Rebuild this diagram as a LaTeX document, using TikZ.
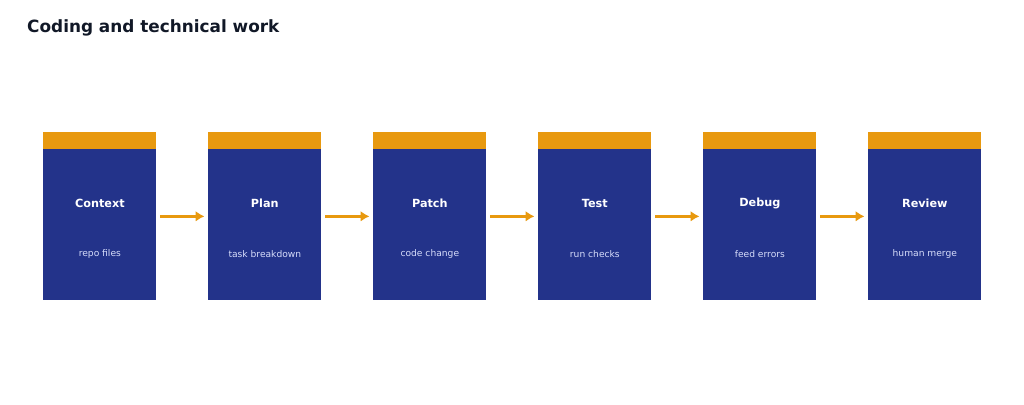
\documentclass[tikz,border=0pt]{standalone}
\usepackage{fontspec}
\setmainfont{DejaVu Sans}
\usetikzlibrary{positioning, arrows.meta}
\definecolor{stageblue}{RGB}{35, 51, 138}
\definecolor{caporange}{RGB}{232, 153, 15}
\definecolor{titleink}{RGB}{17, 24, 39}
\definecolor{subink}{RGB}{214, 220, 250}
\tikzset{
  stage/.style={rectangle, fill=stageblue, minimum width=2.26cm, minimum height=3.02cm, inner sep=0pt, anchor=north west},
  stagecap/.style={rectangle, fill=caporange, minimum width=2.26cm, minimum height=0.34cm, inner sep=0pt, anchor=south},
  flow/.style={caporange, line width=1.6pt, -{Latex[length=5pt, width=6pt]}, shorten >=2pt, shorten <=2pt}
}
\begin{document}
\begin{tikzpicture}[x=0.02cm, y=-0.02cm]
\useasboundingbox (0,0) rectangle (1024,405);

% Title
\node (title) [anchor=west, text=titleink, font=\bfseries\fontsize{9.6pt}{11pt}\selectfont] at (21,28) {Coding and technical work};

% Stages
\foreach \i/\name/\sub [count=\k from 0] in {ctx/Context/repo files, plan/Plan/task breakdown, patch/Patch/code change, test/Test/run checks, debug/Debug/feed errors, review/Review/human merge} {
  \node (\i) [stage] at (43+165*\k, 149) {};
  \node (\i cap) [stagecap] at (\i.north) {};
  \node [text=white, font=\bfseries\fontsize{6.4pt}{7pt}\selectfont] at ([yshift=-1.08cm]\i.north) {\name};
  \node [text=subink, font=\fontsize{5.2pt}{6pt}\selectfont] at ([yshift=-2.1cm]\i.north) {\sub};
}

% Arrows
\foreach \a/\b in {ctx/plan, plan/patch, patch/test, test/debug, debug/review}
  \draw [flow] ([yshift=0.17cm]\a.east) -- ([yshift=0.17cm]\b.west);

\end{tikzpicture}
\end{document}
